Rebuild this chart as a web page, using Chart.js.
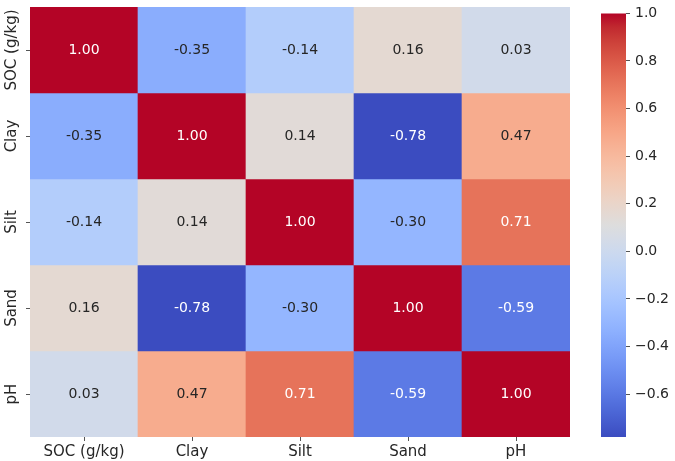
<!DOCTYPE html>
<html>
<head>
<meta charset="utf-8">
<script src="https://cdn.jsdelivr.net/npm/chart.js@4/dist/chart.umd.min.js"></script>
<style>
  body { margin: 0; background: #fff; }
  #wrap { position: relative; width: 675px; height: 461px; }
  #heat { position: absolute; left: 0; top: 0; }
  #cbar { position: absolute; left: 590px; top: 0; }
</style>
</head>
<body>
<div id="wrap">
  <canvas id="heat" width="580" height="461"></canvas>
  <canvas id="cbar" width="85" height="461"></canvas>
</div>
<script>
/* -------- DATA -------- */
const rowLabels = ["SOC (g/kg)", "Clay", "Silt", "Sand", "pH"];
const colLabels = ["SOC (g/kg)", "Clay", "Silt", "Sand", "pH"];

const socRow  = [1.00, -0.35, -0.14,  0.16,  0.03];
const clayRow = [-0.35, 1.00,  0.14, -0.78,  0.47];
const siltRow = [-0.14, 0.14,  1.00, -0.30,  0.71];
const sandRow = [0.16, -0.78, -0.30,  1.00, -0.59];
const phRow   = [0.03,  0.47,  0.71, -0.59,  1.00];

const cbarTicks = [-0.6, -0.4, -0.2, 0.0, 0.2, 0.4, 0.6, 0.8, 1.0];

const rows = [socRow, clayRow, siltRow, sandRow, phRow];
const vmin = Math.min(...rows.flat());
const vmax = Math.max(...rows.flat());

/* -------- COOLWARM COLORMAP -------- */
const coolwarm = [
  [59,76,192],[68,90,204],[77,104,215],[87,117,225],[98,130,234],[108,142,241],
  [119,154,247],[130,165,251],[141,176,254],[152,185,255],[163,194,255],[174,201,253],
  [184,208,249],[194,213,244],[204,217,238],[213,219,230],[221,221,221],[229,216,209],
  [236,211,197],[241,204,184],[245,196,172],[247,187,160],[247,177,148],[247,166,135],
  [244,154,123],[241,141,111],[236,127,99],[229,112,88],[222,96,77],[213,80,66],
  [203,62,56],[192,40,47],[180,4,38]
];

function cmap(t) {
  t = Math.max(0, Math.min(1, t));
  const p = t * (coolwarm.length - 1);
  const i = Math.min(Math.floor(p), coolwarm.length - 2);
  const f = p - i;
  const a = coolwarm[i], b = coolwarm[i + 1];
  return [0, 1, 2].map(k => Math.round(a[k] + (b[k] - a[k]) * f));
}
function rgb(c) { return `rgb(${c[0]},${c[1]},${c[2]})`; }
function colorFor(v) { return rgb(cmap((v - vmin) / (vmax - vmin))); }

// same rule seaborn uses to pick light/dark annotation text
function textColorFor(v) {
  const c = cmap((v - vmin) / (vmax - vmin)).map(x => {
    x = x / 255;
    return x <= 0.03928 ? x / 12.92 : Math.pow((x + 0.055) / 1.055, 2.4);
  });
  const lum = 0.2126 * c[0] + 0.7152 * c[1] + 0.0722 * c[2];
  return lum > 0.408 ? "#262626" : "#ffffff";
}

const FONT = "'DejaVu Sans', sans-serif";
const INK = "#262626";

/* -------- PLUGINS -------- */
const annotate = {
  id: "annotate",
  afterDatasetsDraw(chart) {
    const ctx = chart.ctx;
    ctx.save();
    ctx.font = "14px " + FONT;
    ctx.textAlign = "center";
    ctx.textBaseline = "middle";
    chart.data.datasets.forEach((ds, r) => {
      chart.getDatasetMeta(r).data.forEach((el, c) => {
        const v = rows[r][c];
        ctx.fillStyle = textColorFor(v);
        ctx.fillText(v.toFixed(2), el.x, (el.y + el.base) / 2);
      });
    });
    ctx.restore();
  }
};

const rowTitles = {
  id: "rowTitles",
  afterDraw(chart) {
    const sc = chart.scales.yl;
    const ctx = chart.ctx;
    ctx.save();
    ctx.font = "15px " + FONT;
    ctx.fillStyle = INK;
    ctx.textAlign = "center";
    ctx.textBaseline = "middle";
    rowLabels.forEach((lab, i) => {
      ctx.save();
      ctx.translate(12, sc.getPixelForTick(i));
      ctx.rotate(-Math.PI / 2);
      ctx.fillText(lab, 0, 0);
      ctx.restore();
    });
    ctx.restore();
  }
};

/* -------- HEATMAP -------- */
new Chart(document.getElementById("heat"), {
  type: "bar",
  data: {
    labels: colLabels,
    datasets: rows.map((vals, r) => ({
      label: rowLabels[r],
      data: vals.map(() => [r, r + 1]),
      backgroundColor: vals.map(colorFor),
      borderWidth: 0,
      borderSkipped: false,
      barPercentage: 1,
      categoryPercentage: 1,
      grouped: false,
      yAxisID: "y"
    }))
  },
  options: {
    responsive: false,
    animation: false,
    layout: { padding: { top: 7, right: 10, left: 0, bottom: 0 } },
    plugins: { legend: { display: false }, tooltip: { enabled: false } },
    scales: {
      x: {
        type: "category",
        grid: { drawOnChartArea: false, offset: false, tickLength: 4, color: "#555" },
        border: { display: false },
        ticks: { color: INK, font: { family: FONT, size: 15 }, padding: 2 },
        afterFit(s) { s.height = 24; }
      },
      y: { type: "linear", min: 0, max: 5, reverse: true, display: false },
      yl: {
        type: "category",
        labels: rowLabels,
        offset: true,
        position: "left",
        grid: { drawOnChartArea: false, offset: false, tickLength: 4, color: "#555" },
        border: { display: false },
        ticks: { display: false },
        afterFit(s) { s.width = 30; }
      }
    }
  },
  plugins: [annotate, rowTitles]
});

/* -------- COLORBAR -------- */
function barGradient(context) {
  const area = context.chart.chartArea;
  if (!area) return null;
  const g = context.chart.ctx.createLinearGradient(0, area.bottom, 0, area.top);
  coolwarm.forEach((c, i) => g.addColorStop(i / (coolwarm.length - 1), rgb(c)));
  return g;
}

new Chart(document.getElementById("cbar"), {
  type: "bar",
  data: {
    labels: [""],
    datasets: [{
      data: [[vmin, vmax]],
      backgroundColor: barGradient,
      borderWidth: 0,
      borderSkipped: false,
      barPercentage: 1,
      categoryPercentage: 1
    }]
  },
  options: {
    responsive: false,
    animation: false,
    layout: { padding: { top: 7, bottom: 24, left: 11, right: 0 } },
    plugins: { legend: { display: false }, tooltip: { enabled: false } },
    scales: {
      x: { display: false },
      y: {
        position: "right",
        min: vmin,
        max: vmax,
        afterBuildTicks(s) { s.ticks = cbarTicks.map(v => ({ value: v })); },
        grid: { drawOnChartArea: false, tickLength: 4, color: "#555" },
        border: { display: false },
        ticks: {
          color: INK,
          font: { family: FONT, size: 14 },
          padding: 5,
          callback: v => (v < 0 ? "\u2212" : "") + Math.abs(v).toFixed(1)
        },
        afterFit(s) { s.width = 49; }
      }
    }
  }
});
</script>
</body>
</html>
